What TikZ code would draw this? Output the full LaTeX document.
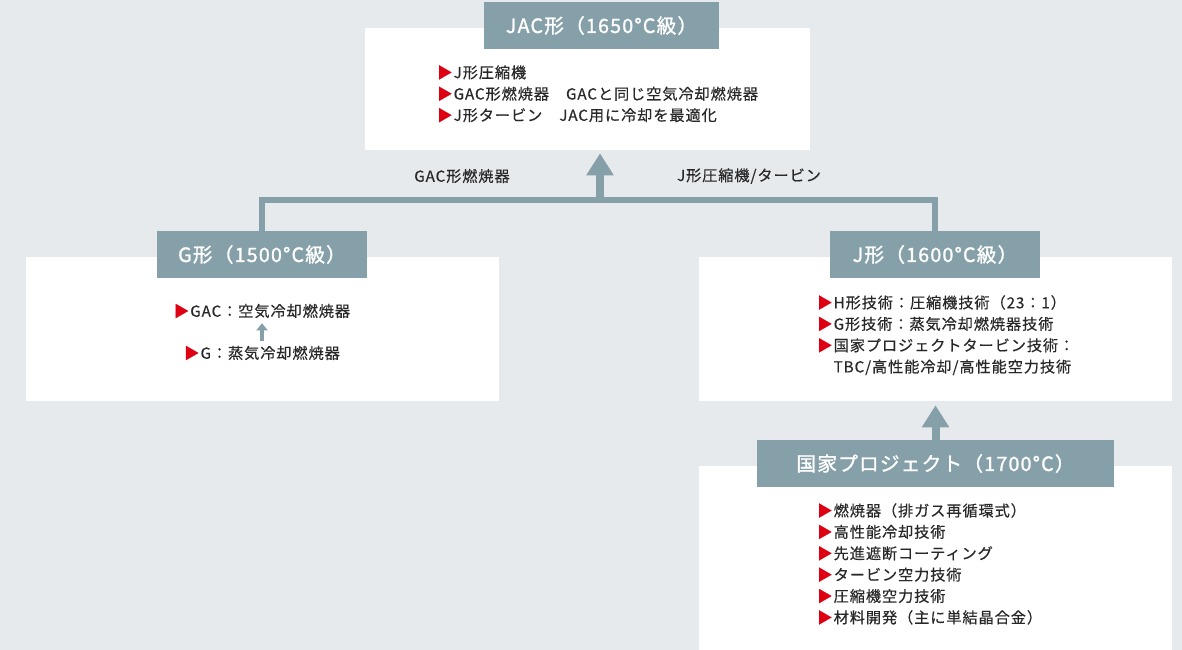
\documentclass[tikz,border=0pt]{standalone}
\usepackage{fontspec}
\setmainfont{Noto Sans CJK JP}
\newfontfamily\listfont{Noto Sans CJK JP}[LetterSpace=6, FakeBold=0.4]
\newfontfamily\headfont{Noto Sans CJK JP}[LetterSpace=6, FakeBold=1.4]
\usepackage{graphicx}
\usepackage{tikz}
\usetikzlibrary{arrows.meta}
\definecolor{pagegray}{RGB}{231,234,237}
\definecolor{headgray}{RGB}{133,160,168}
\definecolor{textgray}{RGB}{40,40,40}
\definecolor{markred}{RGB}{222,0,18}
\newcommand{\redtri}{\textcolor{markred}{▶}\hspace{0.08em}}
\tikzset{
    panel/.style={fill=white, rectangle, inner sep=0pt},
    head/.style={fill=headgray, rectangle, inner sep=0pt, minimum height=1.175cm, text=white,
        font=\headfont\fontsize{14}{16}\selectfont},
    items/.style={anchor=north west, inner sep=0pt, align=left, text=textgray,
        font=\listfont\fontsize{10.8}{15.2}\selectfont},
    tag/.style={inner sep=0pt, text=textgray, font=\listfont\fontsize{10.8}{15}\selectfont},
    link/.style={draw=headgray, line width=0.15cm},
    uparrow/.style={draw=headgray, line width=0.2cm, -{Triangle[width=0.65cm,length=0.55cm]}},
    smallarrow/.style={draw=headgray, line width=0.1cm, -{Triangle[width=0.28cm,length=0.18cm]}}
}
\begin{document}
\begin{tikzpicture}[x=0.025cm,y=-0.025cm]
    \fill[pagegray] (0,0) rectangle (1182,650);
    \useasboundingbox (0,0) rectangle (1182,650);

    \node[panel, minimum width=11.125cm, minimum height=3.05cm] (JACbox) at (587.5,89) {};
    \node[panel, minimum width=11.825cm, minimum height=3.6cm] (Gbox) at (262.5,329) {};
    \node[panel, minimum width=11.825cm, minimum height=3.6cm] (Jbox) at (935.5,329) {};
    \node[panel, minimum width=11.825cm, minimum height=4.6cm] (Pbox) at (935.5,558) {};

    \node[head, minimum width=5.875cm] (JAChead) at (601.5,25.5) {JAC形（1650°C級）};
    \node[head, minimum width=5.25cm] (Ghead) at (262,254.5) {G形（1500°C級）};
    \node[head, minimum width=5.25cm] (Jhead) at (935,254.5) {J形（1600°C級）};
    \node[head, minimum width=8.925cm] (Phead) at (935.5,463.5) {国家プロジェクト（1700°C）};

    \node[items] (JAClist) at (437,65) {\redtri J形圧縮機\\
        \redtri GAC形燃焼器　GACと同じ空気冷却燃焼器\\
        \redtri J形タービン　JAC用に冷却を最適化};
    \node[tag] (Gnew) at (262,311) {\redtri GAC：空気冷却燃焼器};
    \node[tag] (Gold) at (262,353) {\redtri G：蒸気冷却燃焼器};
    \node[items] (Jlist) at (817,295) {\redtri H形技術：圧縮機技術（23：1）\\
        \redtri G形技術：蒸気冷却燃焼器技術\\
        \redtri 国家プロジェクトタービン技術：\\
        \hphantom{\redtri}TBC/高性能冷却/高性能空力技術};
    \node[items] (Plist) at (817,503) {\redtri 燃焼器（排ガス再循環式）\\
        \redtri 高性能冷却技術\\
        \redtri 先進遮断コーティング\\
        \redtri タービン空力技術\\
        \redtri 圧縮機空力技術\\
        \redtri 材料開発（主に単結晶合金）};

    \coordinate (split) at (600,200);
    \draw[link] (Ghead.north) |- (split) -| (Jhead.north);
    \draw[uparrow] (split) -- ([yshift=-0.075cm]JACbox.south -| split);
    \draw[uparrow] (Phead.north) -- ([yshift=-0.1cm]Jbox.south -| Phead.north);
    \draw[smallarrow, shorten <=0.12cm, shorten >=0.12cm] (Gold.north) -- (Gnew.south);

    \node[tag] (GAClabel) at (462,176) {GAC形燃焼器};
    \node[tag] (Jlabel) at (749,176) {J形圧縮機/タービン};
\end{tikzpicture}
\end{document}
